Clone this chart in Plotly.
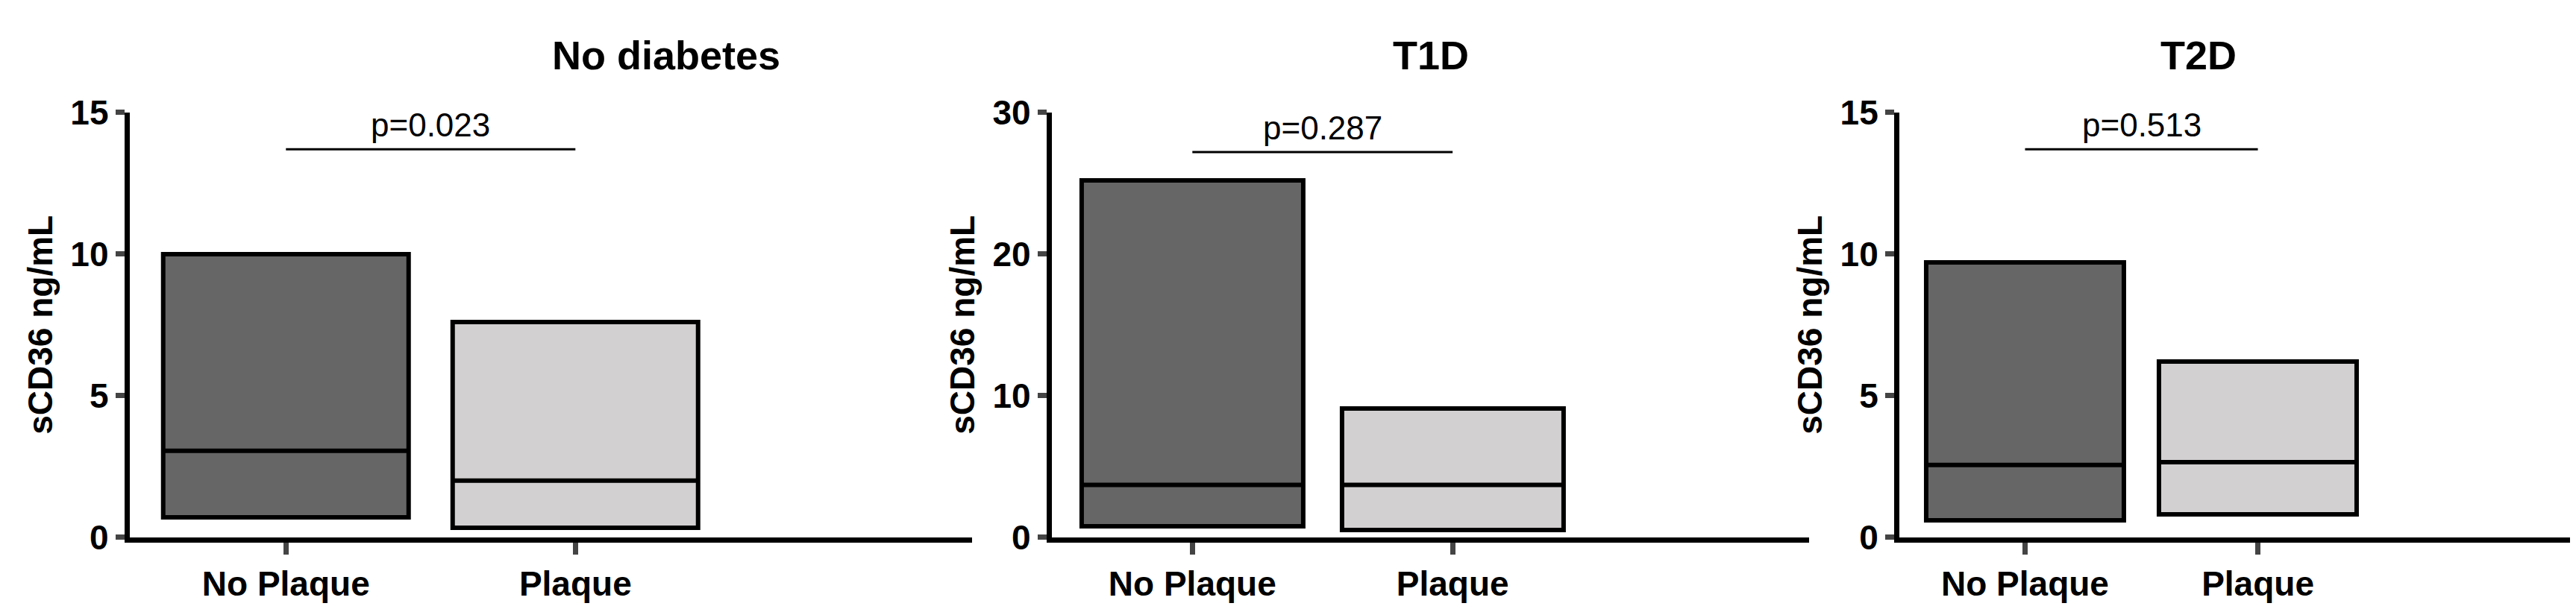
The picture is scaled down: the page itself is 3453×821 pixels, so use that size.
import plotly.graph_objects as go

titles = ["No diabetes", "T1D", "T2D"]
groups = ["No Plaque", "Plaque"]
mins = [[0.7, 0.35], [0.8, 0.5], [0.6, 0.8]]
maxs = [[10.0, 7.6], [25.2, 9.1], [9.7, 6.2]]
medians = [[3.05, 2.0], [3.7, 3.7], [2.55, 2.65]]
pvals = ["p=0.023", "p=0.287", "p=0.513"]
sig_y = [13.7, 27.2, 13.7]
ymax = [15, 30, 15]
ticks = [[0, 5, 10, 15], [0, 10, 20, 30], [0, 5, 10, 15]]
colors = ["#666666", "#d3d0d1"]

domains = [(0.048, 0.375), (0.406, 0.70), (0.735, 0.998)]
FONT = "Liberation Sans"
fig = go.Figure()
W = 0.85
for i in range(3):
    xa = "x" if i == 0 else f"x{i+1}"
    ya = "y" if i == 0 else f"y{i+1}"
    fig.add_trace(go.Bar(x=[0, 1], y=[maxs[i][k] - mins[i][k] for k in range(2)], base=mins[i],
                         width=W, marker=dict(color=colors, line=dict(color="black", width=6)),
                         xaxis=xa, yaxis=ya, showlegend=False))
    for k in range(2):
        fig.add_trace(go.Scatter(x=[k - W/2, k + W/2], y=[medians[i][k]] * 2, mode="lines",
                                 line=dict(color="black", width=6), xaxis=xa, yaxis=ya, showlegend=False))
    fig.add_trace(go.Scatter(x=[0, 1], y=[sig_y[i]] * 2, mode="lines", line=dict(color="black", width=3),
                             xaxis=xa, yaxis=ya, showlegend=False))
    fig.add_annotation(x=0.5, y=sig_y[i], xref=xa, yref=ya, text=pvals[i], showarrow=False,
                       yanchor="bottom", yshift=6, font=dict(size=44, color="black", family=FONT))
    d = domains[i]
    fig.add_annotation(x=(d[0] + d[1]) / 2, y=1.0, xref="paper", yref="paper", text="<b>" + titles[i] + "</b>",
                       showarrow=False, yanchor="top", yshift=-8, font=dict(size=54, color="black", family=FONT))
    fig.layout[("xaxis" if i == 0 else f"xaxis{i+1}")] = dict(
        domain=d, anchor=ya, range=[-0.54, 2.37], tickvals=[0, 1], ticktext=["<b>%s</b>" % g for g in groups],
        showline=True, linewidth=7, linecolor="black", ticks="outside", ticklen=16, tickwidth=7,
        tickfont=dict(size=46, color="black", family=FONT), showgrid=False, zeroline=False)
    fig.layout[("yaxis" if i == 0 else f"yaxis{i+1}")] = dict(
        domain=[0.107, 0.848], anchor=xa, range=[0, ymax[i]], tickvals=ticks[i],
        ticktext=["<b>%d</b>" % t for t in ticks[i]],
        showline=True, linewidth=7, linecolor="black", ticks="outside", ticklen=12, tickwidth=7,
        tickfont=dict(size=46, color="black", family=FONT), showgrid=False, zeroline=False,
        title=dict(text="<b>sCD36 ng/mL</b>", font=dict(size=46, color="black", family=FONT), standoff=12))

fig.update_layout(width=3453, height=821, plot_bgcolor="white", paper_bgcolor="white",
                  margin=dict(l=0, r=0, t=0, b=0), bargap=0)
fig.write_html("out.html")
